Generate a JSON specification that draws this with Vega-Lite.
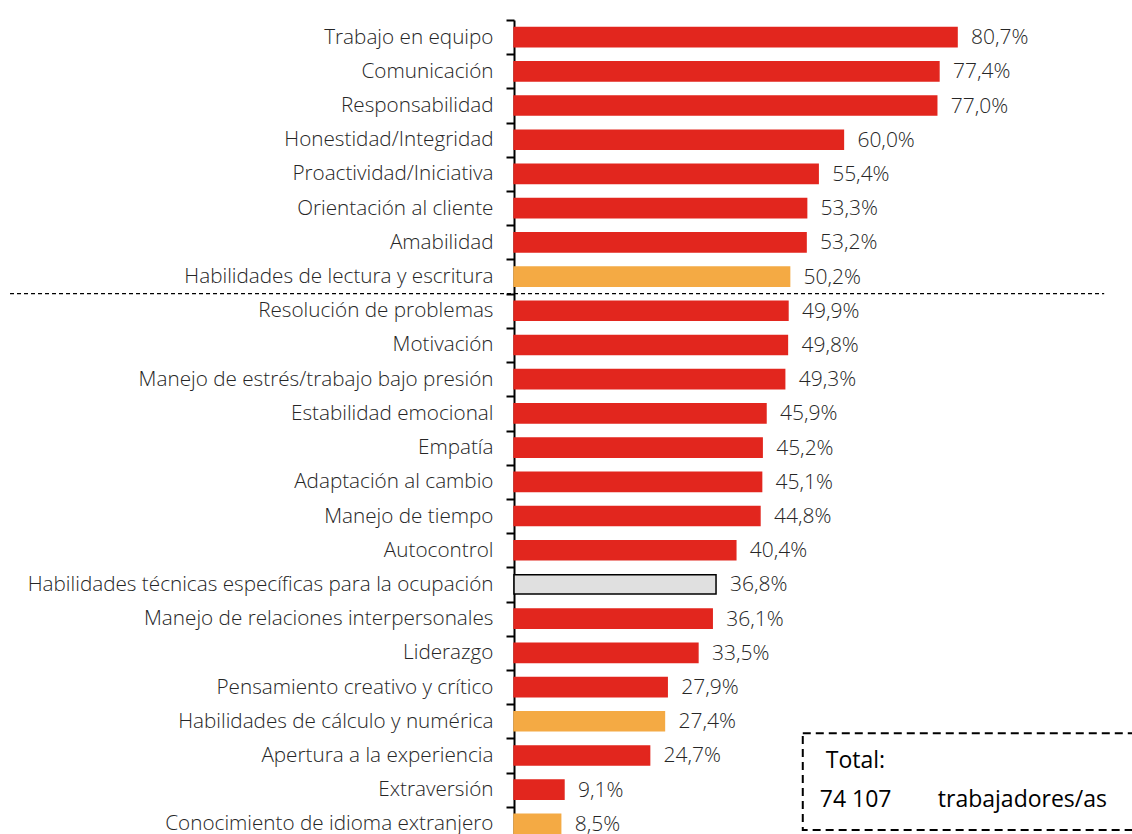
{
  "$schema": "https://vega.github.io/schema/vega-lite/v6.json",
  "autosize": {"type": "none"},
  "padding": {"left": 514, "top": 20, "right": 69, "bottom": 0},
  "width": 549,
  "height": 821,
  "background": "white",
  "config": {
    "view": {"stroke": null},
    "locale": {"number": {"decimal": ",", "thousands": " ", "grouping": [3], "currency": ["", ""]}},
    "font": "Open Sans"
  },
  "data": {"values": [
    {"skill": "Trabajo en equipo", "pct": 0.807, "kind": "red"},
    {"skill": "Comunicación", "pct": 0.774, "kind": "red"},
    {"skill": "Responsabilidad", "pct": 0.770, "kind": "red"},
    {"skill": "Honestidad/Integridad", "pct": 0.600, "kind": "red"},
    {"skill": "Proactividad/Iniciativa", "pct": 0.554, "kind": "red"},
    {"skill": "Orientación al cliente", "pct": 0.533, "kind": "red"},
    {"skill": "Amabilidad", "pct": 0.532, "kind": "red"},
    {"skill": "Habilidades de lectura y escritura", "pct": 0.502, "kind": "orange"},
    {"skill": "Resolución de problemas", "pct": 0.499, "kind": "red"},
    {"skill": "Motivación", "pct": 0.498, "kind": "red"},
    {"skill": "Manejo de estrés/trabajo bajo presión", "pct": 0.493, "kind": "red"},
    {"skill": "Estabilidad emocional", "pct": 0.459, "kind": "red"},
    {"skill": "Empatía", "pct": 0.452, "kind": "red"},
    {"skill": "Adaptación al cambio", "pct": 0.451, "kind": "red"},
    {"skill": "Manejo de tiempo", "pct": 0.448, "kind": "red"},
    {"skill": "Autocontrol", "pct": 0.404, "kind": "red"},
    {"skill": "Habilidades técnicas específicas para la ocupación", "pct": 0.368, "kind": "gray"},
    {"skill": "Manejo de relaciones interpersonales", "pct": 0.361, "kind": "red"},
    {"skill": "Liderazgo", "pct": 0.335, "kind": "red"},
    {"skill": "Pensamiento creativo y crítico", "pct": 0.279, "kind": "red"},
    {"skill": "Habilidades de cálculo y numérica", "pct": 0.274, "kind": "orange"},
    {"skill": "Apertura a la experiencia", "pct": 0.247, "kind": "red"},
    {"skill": "Extraversión", "pct": 0.091, "kind": "red"},
    {"skill": "Conocimiento de idioma extranjero", "pct": 0.085, "kind": "orange"}
  ]},
  "encoding": {
    "y": {
      "field": "skill", "type": "nominal", "sort": null,
      "scale": {"padding": 0},
      "axis": {
        "title": null, "domainColor": "#000000", "domainWidth": 2,
        "tickColor": "#000000", "tickWidth": 2, "tickSize": 8, "tickBand": "extent",
        "labelFontSize": 20.7, "labelFontWeight": 300, "labelColor": "#262626", "labelPadding": 13,
        "labelFont": "Open Sans", "labelLimit": 600
      }
    }
  },
  "layer": [
    {
      "mark": {"type": "bar", "height": {"band": 0.56}, "strokeWidth": 1.5},
      "encoding": {
        "x": {"field": "pct", "type": "quantitative", "scale": {"domain": [0, 1], "nice": false}, "axis": null},
        "color": {"field": "kind", "type": "nominal", "legend": null,
          "scale": {"domain": ["red", "orange", "gray"], "range": ["#E2261E", "#F4AA44", "#E0E0E0"]}},
        "stroke": {"field": "kind", "type": "nominal", "legend": null,
          "scale": {"domain": ["red", "orange", "gray"], "range": ["#E2261E", "#F4AA44", "#000000"]}}
      }
    },
    {
      "mark": {"type": "text", "align": "left", "baseline": "middle", "dx": 14, "dy": 1, "fontSize": 21, "fontWeight": 300, "color": "#262626"},
      "encoding": {
        "x": {"field": "pct", "type": "quantitative"},
        "text": {"field": "pct", "type": "quantitative", "format": ".1%"}
      }
    },
    {
      "data": {"values": [{"note": "divider"}]},
      "mark": {"type": "rule", "strokeDash": [4, 3], "strokeWidth": 1.2, "color": "#000000"},
      "encoding": {
        "x": {"datum": -0.918},
        "x2": {"datum": 1.075},
        "y": {"datum": "Resolución de problemas", "bandPosition": 0}
      }
    },
    {
      "data": {"values": [{"note": "box"}]},
      "mark": {"type": "rect", "fill": null, "stroke": "#000000", "strokeWidth": 2, "strokeDash": [8, 5]},
      "encoding": {
        "x": {"datum": 0.526},
        "x2": {"datum": 1.2},
        "y": {"datum": "Habilidades de cálculo y numérica", "bandPosition": 0.85},
        "y2": {"datum": "Conocimiento de idioma extranjero", "bandPosition": 0.68}
      }
    },
    {
      "data": {"values": [{"note": "total"}]},
      "mark": {"type": "text", "align": "left", "baseline": "middle", "fontSize": 23, "font": "Open Sans", "fontWeight": "normal", "color": "#000000"},
      "encoding": {
        "x": {"datum": 0.568},
        "y": {"datum": "Apertura a la experiencia", "bandPosition": 0.67},
        "text": {"value": "Total:"}
      }
    },
    {
      "data": {"values": [{"note": "count"}]},
      "mark": {"type": "text", "align": "left", "baseline": "middle", "fontSize": 23, "font": "Open Sans", "fontWeight": "normal", "color": "#000000"},
      "encoding": {
        "x": {"datum": 0.557},
        "y": {"datum": "Extraversión", "bandPosition": 0.81},
        "text": {"value": "74 107"}
      }
    },
    {
      "data": {"values": [{"note": "unit"}]},
      "mark": {"type": "text", "align": "left", "baseline": "middle", "fontSize": 23, "font": "Open Sans", "fontWeight": "normal", "color": "#000000"},
      "encoding": {
        "x": {"datum": 0.772},
        "y": {"datum": "Extraversión", "bandPosition": 0.81},
        "text": {"value": "trabajadores/as"}
      }
    }
  ]
}
